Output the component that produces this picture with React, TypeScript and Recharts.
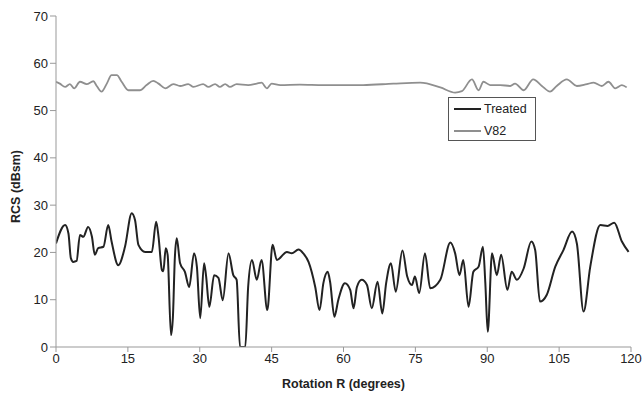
import React from 'react';
import { LineChart, Line, XAxis, YAxis } from 'recharts';

const treatedDeg = [0, 1.9, 2.6, 3.1, 3.6, 4.3, 5.0, 5.7, 6.7, 7.5, 8.1, 8.8, 9.9, 10.9, 11.6, 13.0, 14.4, 15.8, 16.5, 17.2, 18.6, 20.0, 20.9, 21.4, 22.1, 22.4, 22.9, 23.3, 24.0, 24.4, 24.8, 25.2, 25.9, 26.9, 27.8, 28.8, 29.4, 30.1, 30.9, 31.3, 32.0, 33.0, 33.9, 34.8, 36.0, 37.0, 37.7, 38.4, 39.5, 40.1, 40.9, 41.9, 42.9, 44.1, 45.2, 46.1, 48.2, 49.2, 50.6, 51.6, 52.7, 54.1, 55.0, 55.8, 56.7, 57.2, 58.1, 58.9, 60.3, 61.4, 62.1, 62.8, 63.8, 64.9, 65.9, 67.1, 68.1, 68.9, 69.9, 70.9, 72.3, 73.3, 74.3, 74.9, 75.8, 77.0, 78.1, 80.2, 82.3, 83.3, 84.2, 85.0, 86.1, 87.1, 88.2, 89.1, 89.6, 90.1, 91.0, 92.0, 92.9, 94.2, 95.1, 96.2, 97.6, 99.2, 100.0, 101.0, 102.4, 104.2, 105.9, 107.7, 108.7, 110.1, 111.5, 113.6, 115.1, 116.5, 118.1, 119.5];
const treatedVal = [21.9, 25.8, 24.0, 18.8, 18.0, 18.2, 23.7, 23.3, 25.4, 23.3, 19.5, 20.9, 21.2, 25.8, 22.3, 17.3, 21.2, 28.3, 26.8, 21.6, 20.1, 20.1, 26.5, 23.3, 16.3, 16.0, 20.9, 19.5, 2.5, 6.4, 18.8, 23.0, 17.7, 15.9, 12.7, 19.8, 17.0, 6.1, 17.7, 15.2, 8.5, 15.2, 14.6, 9.9, 19.8, 15.2, 14.2, 0, 0, 12.7, 18.4, 14.2, 18.4, 7.8, 21.6, 18.4, 20.1, 19.8, 20.6, 19.8, 18.0, 12.7, 7.8, 13.5, 15.9, 13.8, 6.4, 9.9, 13.5, 12.1, 8.2, 12.7, 14.2, 13.1, 8.2, 13.8, 7.1, 13.5, 17.7, 11.7, 20.4, 14.9, 13.1, 14.9, 11.4, 19.8, 12.4, 14.2, 22.1, 19.8, 15.2, 18.4, 8.5, 15.9, 17.0, 21.2, 13.5, 3.2, 19.8, 15.2, 19.5, 12.1, 15.9, 14.2, 16.6, 22.3, 20.5, 9.6, 11.0, 17.0, 20.5, 24.4, 21.9, 7.5, 17.0, 25.8, 25.6, 26.3, 22.3, 20.1];

const v82Deg = [0, 0.8, 1.9, 2.9, 3.8, 5.0, 6.4, 7.8, 8.5, 9.5, 10.6, 11.6, 12.7, 13.7, 15.1, 17.5, 18.9, 20.3, 21.4, 22.8, 24.5, 25.9, 27.6, 28.7, 30.7, 31.8, 33.2, 34.2, 35.3, 36.3, 37.7, 40.1, 41.9, 42.9, 44.0, 45.0, 46.8, 50.9, 55.8, 59.3, 64.1, 70.4, 76.0, 80.2, 83.3, 84.7, 86.8, 88.2, 89.2, 90.6, 92.7, 94.8, 95.8, 97.6, 99.6, 101.4, 103.1, 104.5, 106.6, 108.7, 110.8, 112.2, 113.9, 115.3, 116.7, 118.1, 119.1];
const v82Val = [56.1, 55.7, 55.0, 55.6, 54.7, 56.1, 55.6, 56.2, 55.2, 54.0, 55.7, 57.5, 57.5, 56.1, 54.3, 54.3, 55.4, 56.3, 55.7, 54.7, 55.6, 55.2, 55.6, 55.0, 55.6, 55.0, 55.6, 55.0, 55.6, 55.0, 55.6, 55.4, 55.7, 55.9, 54.7, 55.7, 55.4, 55.5, 55.4, 55.4, 55.4, 55.7, 55.9, 54.9, 53.8, 54.1, 56.6, 54.3, 56.1, 55.4, 55.4, 55.2, 55.7, 54.3, 56.6, 55.2, 54.0, 55.2, 56.6, 55.2, 55.6, 55.9, 55.2, 56.1, 54.7, 55.4, 54.9];

const xTicks = [0, 15, 30, 45, 60, 75, 90, 105, 120];
const yTicks = [0, 10, 20, 30, 40, 50, 60, 70];
const seriesNames = ['Treated', 'V82'];
const seriesColors = ['#222222', '#8f8f8f'];

const treatedData = treatedDeg.map((d, i) => ({ x: d, y: treatedVal[i] }));
const v82Data = v82Deg.map((d, i) => ({ x: d, y: v82Val[i] }));

const font = 'Arial, "Liberation Sans", sans-serif';

const LegendBox = () => (
  <div style={{ position: 'absolute', left: 448, top: 97, border: '1px solid #555', background: '#fff', width: 88, height: 44, boxSizing: 'border-box', padding: '2px 0 0 5px', fontFamily: font, fontSize: 12.5, color: '#222' }}>
    {seriesNames.map((n, i) => (
      <div key={n} style={{ display: 'flex', alignItems: 'center', height: 18, marginBottom: i === 0 ? 4 : 0 }}>
        <div style={{ width: 27, height: 0, borderTop: `2px solid ${seriesColors[i]}`, marginRight: 3 }} />
        <span>{n}</span>
      </div>
    ))}
  </div>
);

export default function App() {
  return (
    <div style={{ position: 'absolute', left: 0, top: 0, width: 643, height: 398, background: '#fff' }}>
      <LineChart width={643} height={398} margin={{ top: 16, right: 12, bottom: 0, left: 0 }}>
        <XAxis
          type="number"
          dataKey="x"
          domain={[0, 120]}
          ticks={xTicks}
          allowDataOverflow
          stroke="#999"
          tick={{ fill: '#222', fontSize: 13, fontFamily: font }}
          tickSize={5}
          height={51}
          label={{ value: 'Rotation R (degrees)', position: 'insideBottom', offset: 10, style: { fontFamily: font, fontSize: 12.5, fontWeight: 'bold', fill: '#222' } }}
        />
        <YAxis
          type="number"
          dataKey="y"
          domain={[0, 70]}
          ticks={yTicks}
          allowDataOverflow
          stroke="#999"
          tick={{ fill: '#222', fontSize: 13, fontFamily: font }}
          tickSize={6}
          width={56}
          label={{ value: 'RCS (dBsm)', angle: -90, position: 'insideLeft', offset: 16, dy: 5, style: { textAnchor: 'middle', fontFamily: font, fontSize: 12.5, fontWeight: 'bold', fill: '#222' } }}
        />
        <Line data={treatedData} dataKey="y" name="Treated" type="monotone" stroke={seriesColors[0]} strokeWidth={2} dot={false} isAnimationActive={false} />
        <Line data={v82Data} dataKey="y" name="V82" type="monotone" stroke={seriesColors[1]} strokeWidth={1.8} dot={false} isAnimationActive={false} />
      </LineChart>
      <LegendBox />
    </div>
  );
}
